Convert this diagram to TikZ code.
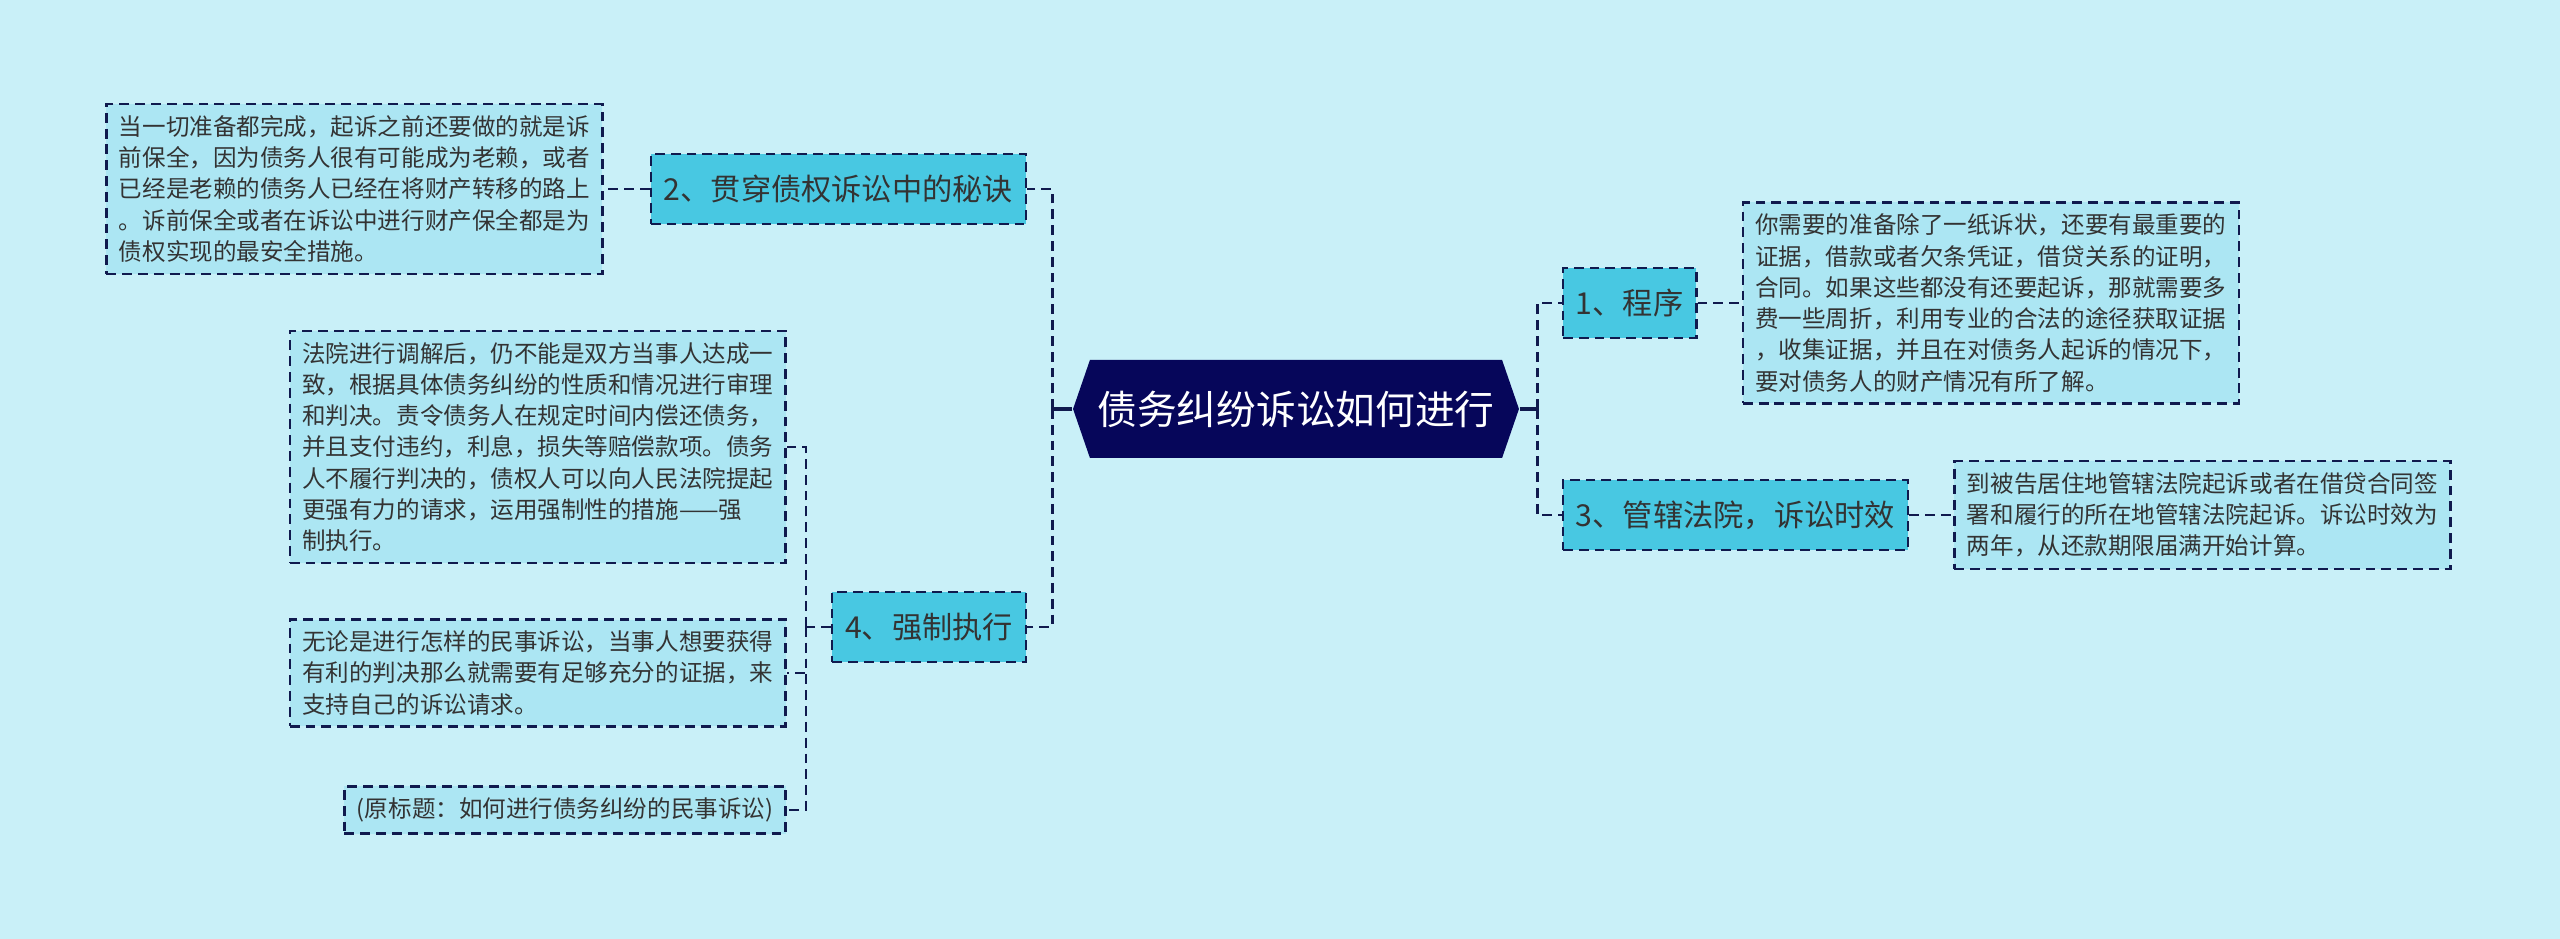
\documentclass[tikz,border=0pt]{standalone}
\usepackage{fontspec}
\setmainfont{Noto Sans CJK SC}
\usetikzlibrary{positioning,shapes.symbols,calc}
\definecolor{bgcyan}{RGB}{201,240,248}
\definecolor{navy}{RGB}{16,26,78}
\definecolor{rootfill}{RGB}{6,6,90}
\definecolor{branchfill}{RGB}{72,200,226}
\definecolor{leaffill}{RGB}{172,230,243}
\definecolor{inkgray}{RGB}{51,51,51}

\begin{document}
\begin{tikzpicture}[
  root/.style={signal, signal to=west and east, signal pointer angle=142, fill=rootfill, text=white, font=\fontsize{11.3}{13}\selectfont, minimum height=0.98cm, inner xsep=0.075cm},
  dashbox/.style={draw=navy, line width=0.7pt, dash pattern=on 2.8pt off 1.7pt},
  branch/.style={dashbox, fill=branchfill, text=inkgray, font=\fontsize{8.6}{10}\selectfont, minimum height=0.7cm, inner xsep=0.13cm},
  leaf/.style={dashbox, fill=leaffill, text=inkgray, align=left, font=\fontsize{6.7}{8.9}\selectfont, inner xsep=0.125cm, inner ysep=0.113cm},
  link/.style={draw=navy, line width=0.8pt, dash pattern=on 2.8pt off 1.7pt},
  stem/.style={draw=navy, line width=0.9pt}
]
\fill[bgcyan] (0,0) rectangle (25.6,9.39);

\node[root] (root) at (12.96,5.30) {债务纠纷诉讼如何进行};

\node[branch, left=0.45cm of root, yshift=2.2cm] (n2) {2、贯穿债权诉讼中的秘诀};
\node[branch, left=0.45cm of root, yshift=-2.18cm] (n4) {4、强制执行};
\node[branch, right=0.42cm of root, yshift=1.06cm] (n1) {1、程序};
\node[branch, right=0.42cm of root, yshift=-1.06cm] (n3) {3、管辖法院，诉讼时效};

\node[leaf, left=0.46cm of n2] (l2) {当一切准备都完成，起诉之前还要做的就是诉\\
前保全，因为债务人很有可能成为老赖，或者\\
已经是老赖的债务人已经在将财产转移的路上\\
。诉前保全或者在诉讼中进行财产保全都是为\\
债权实现的最安全措施。};

\node[leaf, left=0.44cm of n4, yshift=1.8cm] (l4a) {法院进行调解后，仍不能是双方当事人达成一\\
致，根据具体债务纠纷的性质和情况进行审理\\
和判决。责令债务人在规定时间内偿还债务，\\
并且支付违约，利息，损失等赔偿款项。债务\\
人不履行判决的，债权人可以向人民法院提起\\
更强有力的请求，运用强制性的措施——强\\
制执行。};
\node[leaf, left=0.44cm of n4, yshift=-0.46cm] (l4b) {无论是进行怎样的民事诉讼，当事人想要获得\\
有利的判决那么就需要有足够充分的证据，来\\
支持自己的诉讼请求。};
\node[leaf, left=0.44cm of n4, yshift=-1.83cm] (l4c) {(原标题：如何进行债务纠纷的民事诉讼)};

\node[leaf, right=0.44cm of n1] (l1) {你需要的准备除了一纸诉状，还要有最重要的\\
证据，借款或者欠条凭证，借贷关系的证明，\\
合同。如果这些都没有还要起诉，那就需要多\\
费一些周折，利用专业的合法的途径获取证据\\
，收集证据，并且在对债务人起诉的情况下，\\
要对债务人的财产情况有所了解。};
\node[leaf, right=0.44cm of n3] (l3) {到被告居住地管辖法院起诉或者在借贷合同签\\
署和履行的所在地管辖法院起诉。诉讼时效为\\
两年，从还款期限届满开始计算。};

% trunks
\coordinate[left=0.2cm of root] (ltrunk);
\coordinate[right=0.18cm of root] (rtrunk);
\draw[stem] (root.west) -- (ltrunk);
\draw[stem] (root.east) -- (rtrunk);
\draw[link] (ltrunk) |- (n2);
\draw[link] (ltrunk) |- (n4);
\draw[link] (rtrunk) |- (n1);
\draw[link] (rtrunk) |- (n3);

% leaves
\draw[link] (n2) -- (l2);
\draw[link] (n1) -- (l1);
\draw[link] (n3) -- (l3);
\coordinate[left=0.25cm of n4] (n4fork);
\draw[link] (n4) -- (n4fork);
\draw[link] (n4fork) |- (l4a);
\draw[link] (n4fork) |- (l4b);
\draw[link] (n4fork) |- (l4c);
\end{tikzpicture}
\end{document}
